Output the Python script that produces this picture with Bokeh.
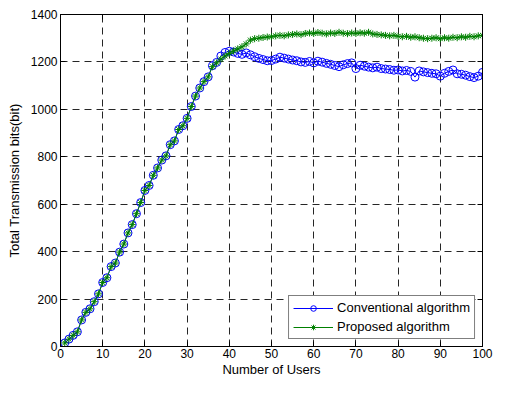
from bokeh.plotting import figure
from bokeh.models import Range1d, LinearAxis, FixedTicker, CustomLabelingPolicy
from bokeh.embed import file_html
from bokeh.resources import INLINE

users = list(range(1, 101))

ramp = [15, 31, 47, 62, 112, 144, 159, 189, 222, 270, 290, 337, 352, 398, 432,
        479, 514, 560, 607, 658, 679, 722, 753, 786, 804, 851, 867, 915, 931, 962,
        1012, 1056, 1090, 1117, 1137]

conventional_tail = [1184, 1198, 1225, 1240, 1245, 1242, 1236, 1232, 1238, 1230,
                     1222, 1215, 1210, 1205, 1206, 1212, 1220, 1216, 1212, 1208,
                     1205, 1200, 1198, 1202, 1196, 1203, 1199, 1194, 1190, 1185,
                     1180, 1188, 1193, 1196, 1172, 1186, 1182, 1178, 1175, 1178,
                     1172, 1170, 1168, 1165, 1166, 1162, 1164, 1160, 1136, 1162,
                     1158, 1155, 1152, 1150, 1140, 1152, 1160, 1166, 1150, 1148,
                     1144, 1138, 1134, 1140, 1156]

proposed_tail = [1180, 1196, 1212, 1225, 1236, 1246, 1255, 1264, 1276, 1292,
                 1298, 1300, 1303, 1305, 1306, 1310, 1312, 1310, 1314, 1316,
                 1318, 1315, 1320, 1322, 1320, 1324, 1321, 1318, 1322, 1320,
                 1325, 1321, 1319, 1322, 1320, 1323, 1321, 1325, 1318, 1316,
                 1314, 1312, 1310, 1312, 1308, 1306, 1308, 1304, 1306, 1302,
                 1300, 1298, 1300, 1302, 1298, 1302, 1300, 1304, 1302, 1306,
                 1304, 1308, 1306, 1310, 1312]

conventional = ramp + conventional_tail
proposed = ramp + proposed_tail

x_ticks = [0, 10, 20, 30, 40, 50, 60, 70, 80, 90, 100]
y_ticks = [0, 200, 400, 600, 800, 1000, 1200, 1400]

FONT = "Liberation Sans"

p = figure(width=493, height=379, output_backend="svg", toolbar_location=None,
           x_range=Range1d(0, 100), y_range=Range1d(0, 1400),
           min_border_left=60, min_border_right=11, min_border_top=14,
           min_border_bottom=28)

p.background_fill_color = "white"
p.border_fill_color = "white"
p.outline_line_color = "black"
p.outline_line_width = 1

for ax, ticks in ((p.xaxis, x_ticks), (p.yaxis, y_ticks)):
    ax.ticker = FixedTicker(ticks=ticks)
    ax.major_tick_in = 5
    ax.major_tick_out = 0
    ax.minor_tick_line_color = None
    ax.axis_line_color = "black"
    ax.major_tick_line_color = "black"
    ax.major_label_text_font = FONT
    ax.major_label_text_font_size = "12px"
    ax.major_label_text_color = "black"
    ax.axis_label_text_font = FONT
    ax.axis_label_text_font_size = "13px"
    ax.axis_label_text_font_style = "normal"
    ax.axis_label_text_color = "black"
    ax.major_label_standoff = 3

p.xaxis.axis_label = "Number of Users"
p.yaxis.axis_label = "Total Transmission bits(bit)"
p.xaxis.major_label_standoff = 2
p.xaxis.axis_label_standoff = 1
p.yaxis.axis_label_standoff = 6

no_labels = CustomLabelingPolicy(code="""
for (const i of Array.from(indices)) indices.unset(i)
return indices
""")

for loc, ticks in (("above", x_ticks), ("right", y_ticks)):
    a = LinearAxis(ticker=FixedTicker(ticks=ticks), major_tick_in=5, major_tick_out=0,
                   minor_tick_line_color=None, major_label_policy=no_labels,
                   major_label_text_font_size="0px",
                   major_label_standoff=0, axis_line_color="black",
                   major_tick_line_color="black")
    p.add_layout(a, loc)

for g in (p.xgrid, p.ygrid):
    g.grid_line_color = "black"
    g.grid_line_dash = "7 5"
    g.grid_line_width = 1
    g.grid_line_alpha = 0.85
p.xgrid.ticker = FixedTicker(ticks=x_ticks)
p.ygrid.ticker = FixedTicker(ticks=y_ticks)

blue = "#0000FF"
green = "#008000"

p.line(users, conventional, line_color=blue, line_width=1, legend_label="Conventional algorithm")
p.scatter(users, conventional, marker="circle", size=8, fill_color=None, line_color=blue,
          line_width=1, legend_label="Conventional algorithm")
p.line(users, proposed, line_color=green, line_width=1, legend_label="Proposed algorithm")
p.scatter(users, proposed, marker="asterisk", size=7, line_color=green, line_width=1,
          legend_label="Proposed algorithm")

lg = p.legend[0]
lg.location = "bottom_right"
lg.border_line_color = "black"
lg.border_line_width = 1
lg.background_fill_color = "white"
lg.background_fill_alpha = 1
lg.label_text_font = FONT
lg.label_text_font_size = "13px"
lg.label_text_color = "black"
lg.glyph_width = 40
lg.glyph_height = 14
lg.label_height = 14
lg.label_standoff = 4
lg.spacing = 4
lg.padding = 4
lg.margin = 7

open("out.html", "w").write(file_html(p, INLINE))
